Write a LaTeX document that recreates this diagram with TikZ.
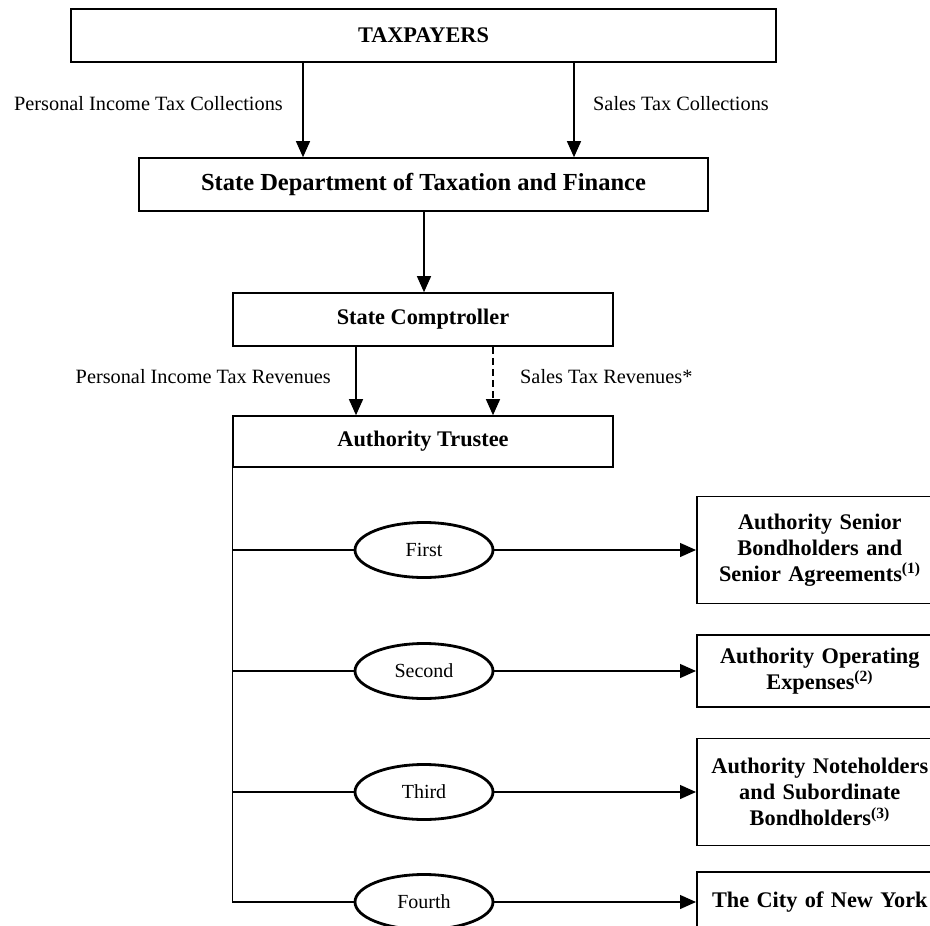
\documentclass[tikz,border=0pt]{standalone}
\usepackage{fontspec}
\setmainfont{Liberation Serif}
\usetikzlibrary{arrows.meta,shapes.geometric}
\begin{document}
\begin{tikzpicture}[x=1pt,y=-1pt,
  box/.style={draw,line width=1.6pt,inner sep=0pt,align=center,font=\fontsize{22.3}{26}\selectfont\bfseries},
  rbox/.style={box,anchor=west,minimum width=246pt,text width=240pt},
  oval/.style={ellipse,draw,line width=2.8pt,minimum width=138pt,minimum height=55pt,inner sep=0pt,font=\fontsize{20}{24}\selectfont},
  lbl/.style={inner sep=0pt,font=\fontsize{20.3}{24}\selectfont},
  conn/.style={line width=1.3pt},
  arr/.style={conn,-{Triangle[length=16pt,width=14pt]}}]
\useasboundingbox (0,0) rectangle (930,926);
\fill[white] (0,0) rectangle (930,926);
% main column
\node[box,minimum width=705pt,minimum height=53pt] (tax) at (423.5,35.5) {TAXPAYERS};
\node[box,minimum width=569pt,minimum height=53pt,font=\fontsize{24.5}{28}\selectfont\bfseries] (dtf) at (423.5,184.5) {State Department of Taxation and Finance};
\node[box,minimum width=380pt,minimum height=53pt] (comp) at (423,319.5) {State Comptroller};
\node[box,minimum width=380pt,minimum height=51pt] (trustee) at (423,441.5) {Authority Trustee};
% labels
\node[lbl,anchor=east] (l1) at (283,104) {Personal Income Tax Collections};
\node[lbl,anchor=west] (l2) at (593,104) {Sales Tax Collections};
\node[lbl,anchor=east] (l3) at (331,377) {Personal Income Tax Revenues};
\node[lbl,anchor=west] (l4) at (520,377) {Sales Tax Revenues*};
% arrows
\draw[arr] ([xshift=-120.5pt]tax.south) -- ([xshift=-120.5pt]tax.south |- dtf.north);
\draw[arr] ([xshift=150.5pt]tax.south) -- ([xshift=150.5pt]tax.south |- dtf.north);
\draw[arr] ([xshift=0.5pt]dtf.south) -- ([xshift=0.5pt]dtf.south |- comp.north);
\draw[arr] ([xshift=-67pt]comp.south) -- ([xshift=-67pt]comp.south |- trustee.north);
\draw[arr,dash pattern=on 7pt off 4pt] ([xshift=70pt]comp.south) -- ([xshift=70pt]comp.south |- trustee.north);
% priority ovals
\node[oval] (o1) at (424,550) {First};
\node[oval] (o2) at (424,671) {Second};
\node[oval] (o3) at (424,792) {Third};
\node[oval] (o4) at (424,902) {Fourth};
% recipients
\node[rbox,minimum height=107pt] (r1) at (696,550) {Authority Senior\\Bondholders and\\Senior Agreements\textsuperscript{(1)}};
\node[rbox,minimum height=72pt] (r2) at (696,671) {Authority Operating\\Expenses\textsuperscript{(2)}};
\node[rbox,minimum height=107pt] (r3) at (696,792) {Authority Noteholders\\and Subordinate\\ Bondholders\textsuperscript{(3)}};
\node[rbox,minimum height=60pt] (r4) at (696,902) {The City of New York};
% trunk
\coordinate (c4) at (trustee.south west |- o4);
\draw[conn] (trustee.south west) -- (c4) -- (o4.west);
\draw[conn] (trustee.south west |- o1) -- (o1.west);
\draw[conn] (trustee.south west |- o2) -- (o2.west);
\draw[conn] (trustee.south west |- o3) -- (o3.west);
\draw[arr] (o1.east) -- (r1.west);
\draw[arr] (o2.east) -- (r2.west);
\draw[arr] (o3.east) -- (r3.west);
\draw[arr] (o4.east) -- (r4.west);
\end{tikzpicture}
\end{document}
